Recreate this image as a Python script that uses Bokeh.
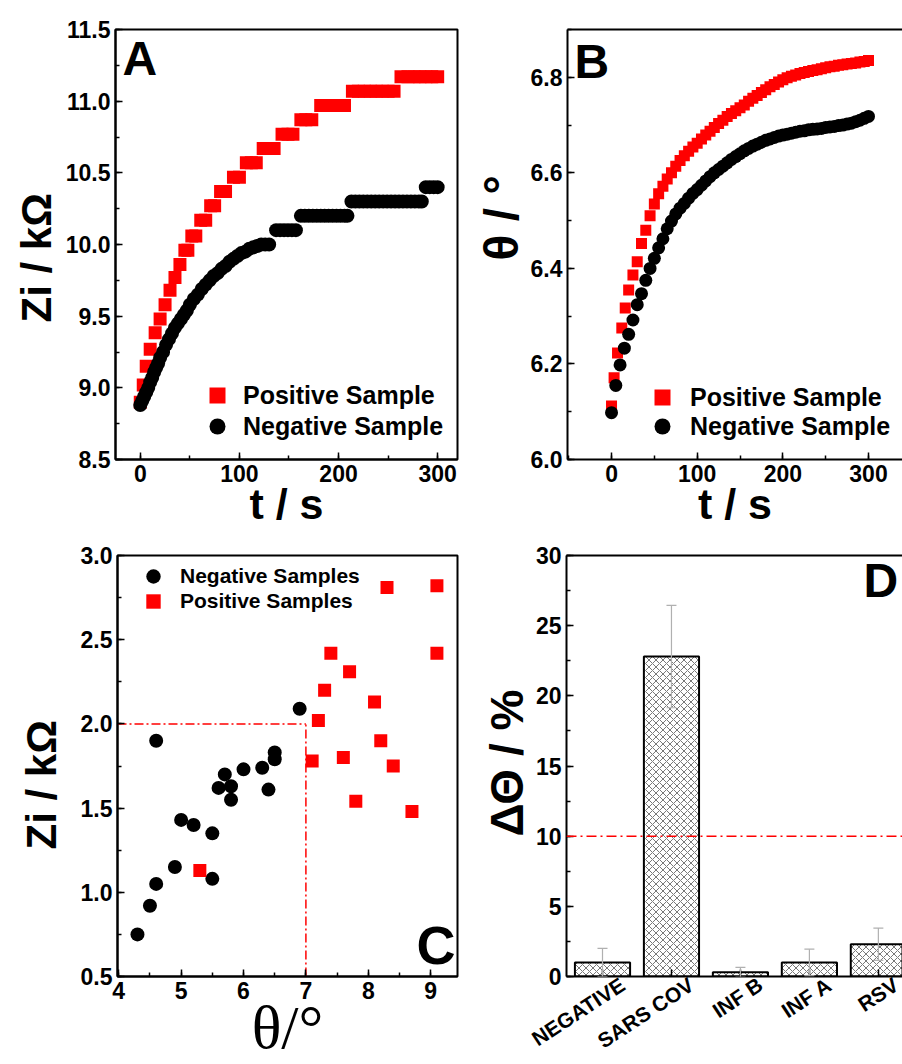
import math
from bokeh.plotting import figure
from bokeh.models import (Range1d, Label, Legend, LegendItem, LinearAxis, Title,
                          FixedTicker, SingleIntervalTicker, ColumnDataSource, Whisker,
                          TeeHead, Span, NumeralTickFormatter)
from bokeh.layouts import column, row
from bokeh.embed import file_html
from bokeh.resources import INLINE

FONT = "Liberation Sans"
SERIF = "Liberation Serif"
RED = "#ff0000"
BLACK = "#000000"

# ---------------- Panel A : Zi vs time ----------------
a_pos_t = [0, 3, 6, 10, 15, 20, 25, 30, 35, 40,
           45, 48, 52, 56, 61, 66, 71, 75, 81, 86,
           94, 100, 107, 112, 117, 124, 130, 135, 143, 149,
           154, 162, 167, 173, 182, 188, 194, 200, 206, 214,
           220, 226, 232, 238, 244, 250, 256, 263, 270, 276,
           282, 288, 294, 300]
a_pos_zi = [8.90, 9.02, 9.15, 9.27, 9.385, 9.48, 9.58, 9.68, 9.77, 9.86,
            9.96, 9.96, 10.06, 10.06, 10.17, 10.17, 10.27, 10.27, 10.37, 10.37,
            10.47, 10.47, 10.57, 10.57, 10.57, 10.67, 10.67, 10.67, 10.77, 10.77,
            10.77, 10.87, 10.87, 10.87, 10.97, 10.97, 10.97, 10.97, 10.97, 11.07,
            11.07, 11.07, 11.07, 11.07, 11.07, 11.07, 11.07, 11.17, 11.17, 11.17,
            11.17, 11.17, 11.17, 11.17]
a_neg_t = [0, 2, 4, 6, 8, 10, 12, 14, 16, 18,
           20, 23, 26, 29, 32, 35, 38, 41, 44, 47,
           50, 54, 58, 62, 66, 70, 74, 78, 82, 86,
           90, 94, 98, 102, 106, 110, 114, 118, 122, 126,
           130, 137, 141, 145, 149, 153, 157, 162, 166, 170,
           174, 178, 182, 186, 190, 194, 198, 202, 206, 209,
           213, 217, 221, 225, 229, 233, 237, 241, 245, 249,
           253, 257, 261, 265, 269, 273, 277, 281, 284, 288,
           292, 296, 300]
a_neg_zi = [8.88, 8.91, 8.94, 8.97, 9.00, 9.04, 9.07, 9.11, 9.14, 9.17,
            9.21, 9.25, 9.30, 9.34, 9.38, 9.42, 9.45, 9.48, 9.51, 9.54,
            9.58, 9.62, 9.65, 9.69, 9.72, 9.75, 9.78, 9.80, 9.83, 9.85,
            9.88, 9.90, 9.92, 9.94, 9.95, 9.97, 9.98, 9.99, 10.00, 10.00,
            10.00, 10.10, 10.10, 10.10, 10.10, 10.10, 10.10, 10.20, 10.20, 10.20,
            10.20, 10.20, 10.20, 10.20, 10.20, 10.20, 10.20, 10.20, 10.20, 10.20,
            10.30, 10.30, 10.30, 10.30, 10.30, 10.30, 10.30, 10.30, 10.30, 10.30,
            10.30, 10.30, 10.30, 10.30, 10.30, 10.30, 10.30, 10.30, 10.30, 10.40,
            10.40, 10.40, 10.40]

# ---------------- Panel B : theta vs time ----------------
b_pos_t = [0, 3, 7, 12, 16, 20, 25, 30, 35, 40,
           45, 50, 55, 60, 65, 70, 75, 80, 85, 90,
           95, 100, 105, 110, 115, 120, 125, 130, 135, 140,
           145, 150, 155, 160, 165, 170, 175, 180, 185, 190,
           195, 200, 205, 210, 215, 220, 225, 230, 235, 240,
           245, 250, 255, 260, 265, 270, 275, 280, 285, 290,
           295, 300]
b_pos_theta = [6.112, 6.171, 6.223, 6.275, 6.317, 6.355, 6.386, 6.414, 6.452, 6.48,
               6.51, 6.535, 6.556, 6.572, 6.587, 6.60, 6.614, 6.626, 6.636, 6.645,
               6.654, 6.662, 6.671, 6.679, 6.687, 6.695, 6.703, 6.71, 6.718, 6.724,
               6.73, 6.736, 6.742, 6.75, 6.756, 6.762, 6.768, 6.774, 6.78, 6.785,
               6.79, 6.795, 6.799, 6.802, 6.805, 6.808, 6.81, 6.812, 6.814, 6.816,
               6.818, 6.82, 6.822, 6.823, 6.825, 6.826, 6.828, 6.829, 6.83, 6.832,
               6.833, 6.835]
b_neg_t = [0, 5, 10, 15, 20, 25, 30, 35, 40, 45,
           50, 55, 60, 65, 70, 75, 80, 85, 90, 95,
           100, 105, 110, 115, 120, 125, 130, 135, 140, 145,
           150, 155, 160, 165, 170, 175, 180, 185, 190, 195,
           200, 205, 210, 215, 220, 225, 230, 235, 240, 245,
           250, 255, 260, 265, 270, 275, 280, 285, 290, 295,
           300]
b_neg_theta = [6.098, 6.155, 6.198, 6.233, 6.262, 6.292, 6.324, 6.347, 6.375, 6.40,
               6.421, 6.443, 6.462, 6.483, 6.499, 6.514, 6.526, 6.536, 6.547, 6.557,
               6.565, 6.574, 6.583, 6.592, 6.60, 6.607, 6.614, 6.621, 6.628, 6.634,
               6.64, 6.646, 6.651, 6.656, 6.66, 6.664, 6.668, 6.671, 6.674, 6.677,
               6.679, 6.681, 6.683, 6.685, 6.687, 6.688, 6.69, 6.691, 6.692, 6.693,
               6.695, 6.696, 6.697, 6.699, 6.70, 6.702, 6.704, 6.707, 6.71, 6.714,
               6.718]

# ---------------- Panel C : Zi vs theta (samples) ----------------
c_neg_theta = [4.3, 4.5, 4.6, 4.6, 4.9, 5.0, 5.2, 5.5, 5.5, 5.6,
               5.7, 5.8, 5.8, 6.0, 6.3, 6.4, 6.5, 6.5, 6.9]
c_neg_zi = [0.75, 0.92, 1.05, 1.90, 1.15, 1.43, 1.40, 1.35, 1.08, 1.62,
            1.70, 1.63, 1.55, 1.73, 1.74, 1.61, 1.83, 1.79, 2.09]
c_pos_theta = [5.3, 7.1, 7.2, 7.3, 7.4, 7.7, 7.6, 7.8, 8.1, 8.2, 8.3, 8.4, 8.7, 9.1, 9.1]
c_pos_zi = [1.13, 1.78, 2.02, 2.20, 2.42, 2.31, 1.80, 1.54, 2.13, 1.90, 2.81, 1.75, 1.48, 2.82, 2.42]
C_THETA_CUT = 7.0
C_ZI_CUT = 2.0

# ---------------- Panel D : delta theta bars ----------------
d_cats = ["NEGATIVE", "SARS COV", "INF B", "INF A", "RSV"]
d_pos = [1, 2, 3, 4, 5]
d_vals = [1.0, 22.8, 0.3, 1.0, 2.3]
d_err = [1.0, 3.65, 0.35, 0.95, 1.15]
D_CUT = 10.0

A_XR, A_YR = (-25, 320), (8.5, 11.5)
B_XR, B_YR = (-51.4, 339.7), (6.0, 6.9)
C_XR, C_YR = (3.98, 9.43), (0.5, 3.0)
D_XR, D_YR = (0.478, 5.35), (0, 30)
D_LABEL_SHIFT = 0.29   # category labels end a little right of the bar centres


def style_axis(ax):
    ax.axis_line_width = 2
    ax.axis_line_color = "black"
    ax.major_tick_in = 7
    ax.major_tick_out = 0
    ax.minor_tick_in = 4
    ax.minor_tick_out = 0
    ax.major_tick_line_width = 1.5
    ax.minor_tick_line_width = 1.5
    ax.major_tick_line_color = "black"
    ax.minor_tick_line_color = "black"
    ax.major_label_text_font = FONT
    ax.major_label_text_font_style = "bold"
    ax.major_label_text_font_size = "23px"
    ax.major_label_text_color = "black"
    ax.major_label_standoff = 5
    ax.axis_label_text_font = FONT
    ax.axis_label_text_font_style = "bold"
    ax.axis_label_text_color = "black"


def mkfig(w, h, xr, yr, ml, mr, mt, mb, xticker, yticker, yfmt=None, outline=True):
    p = figure(width=w, height=h, x_range=Range1d(*xr), y_range=Range1d(*yr),
               output_backend="svg", toolbar_location=None,
               min_border_left=ml, min_border_right=mr,
               min_border_top=mt, min_border_bottom=mb)
    p.grid.visible = False
    p.background_fill_color = "white"
    p.border_fill_color = "white"
    bx, ly = p.below[0], p.left[0]
    style_axis(bx)
    style_axis(ly)
    bx.ticker = xticker
    ly.ticker = yticker
    if yfmt:
        ly.formatter = NumeralTickFormatter(format=yfmt)
    if outline:
        p.outline_line_color = "black"
        p.outline_line_width = 2
    else:
        p.outline_line_color = None
        top = LinearAxis(ticker=FixedTicker(ticks=[]), major_tick_in=0, major_tick_out=0,
                         minor_tick_in=0, minor_tick_out=0, axis_line_width=2,
                         axis_line_color="black")
        p.add_layout(top, "above")
    return p


def lab(p, text, x, y, size):
    p.add_layout(Label(x=x, y=y, x_units="screen", y_units="screen", text=text,
                       text_align="left", text_baseline="alphabetic",
                       text_font=FONT, text_font_style="bold", text_font_size=size,
                       text_color="black"))


def ytitle(p, text, size, offset, standoff, font=FONT, style="bold"):
    p.add_layout(Title(text=text, align="left", offset=offset, standoff=standoff,
                       vertical_align="bottom", text_font=font, text_font_style=style,
                       text_font_size=size, text_color="black"), "left")


def legend_item(p, label, rend, x, y, glyph, standoff, size):
    lg = Legend(items=[LegendItem(label=label, renderers=[rend])], location=(x, y),
                orientation="vertical", glyph_width=glyph, glyph_height=glyph,
                label_height=glyph, spacing=0, padding=0, margin=0,
                label_standoff=standoff, border_line_color=None,
                background_fill_alpha=0, label_text_font=FONT,
                label_text_font_style="bold", label_text_font_size=size,
                label_text_color="black")
    p.add_layout(lg)


# ---- A
pA = mkfig(470, 530, A_XR, A_YR, 115, 13, 27, 68,
           SingleIntervalTicker(interval=100, num_minor_ticks=2),
           SingleIntervalTicker(interval=0.5, num_minor_ticks=2), "0.0")
rAp = pA.scatter(a_pos_t, a_pos_zi, marker="square", size=13, color=RED, line_width=0)
rAn = pA.scatter(a_neg_t, a_neg_zi, marker="circle", size=14, color=BLACK, line_width=0)
legend_item(pA, "Positive Sample", rAp, 82, 44, 40, 6, "25px")
legend_item(pA, "Negative Sample", rAn, 82, 13, 40, 6, "25px")
lab(pA, "A", 7, 401, "48px")
pA.below[0].axis_label = "t / s"
pA.below[0].axis_label_text_font_size = "43px"
pA.below[0].axis_label_standoff = -5
ytitle(pA, "Zi / kΩ", "42px", 137, 6)

# ---- B
pB = mkfig(432, 530, B_XR, B_YR, 97, 0, 29, 68,
           SingleIntervalTicker(interval=100, num_minor_ticks=2),
           SingleIntervalTicker(interval=0.2, num_minor_ticks=2), "0.0", outline=False)
rBp = pB.scatter(b_pos_t, b_pos_theta, marker="square", size=11, color=RED, line_width=0)
rBn = pB.scatter(b_neg_t, b_neg_theta, marker="circle", size=13, color=BLACK, line_width=0)
legend_item(pB, "Positive Sample", rBp, 75, 42, 40, 8, "25px")
legend_item(pB, "Negative Sample", rBn, 75, 13, 40, 8, "25px")
lab(pB, "B", 7, 398, "48px")
pB.below[0].axis_label = "t / s"
pB.below[0].axis_label_text_font_size = "43px"
pB.below[0].axis_label_standoff = -5
ytitle(pB, "θ / °", "48px", 199, 0)

# ---- C
pC = mkfig(470, 534, C_XR, C_YR, 117, 13, 24, 87,
           SingleIntervalTicker(interval=1, num_minor_ticks=2),
           SingleIntervalTicker(interval=0.5, num_minor_ticks=2), "0.0")
pC.segment(x0=[C_XR[0]], y0=[C_ZI_CUT], x1=[C_THETA_CUT], y1=[C_ZI_CUT],
           line_color=RED, line_width=1.5, line_dash="9 3 2 3")
pC.segment(x0=[C_THETA_CUT], y0=[C_YR[0]], x1=[C_THETA_CUT], y1=[C_ZI_CUT],
           line_color=RED, line_width=1.5, line_dash="9 3 2 3")
rCn = pC.scatter(c_neg_theta, c_neg_zi, marker="circle", size=14, color=BLACK, line_width=0)
rCp = pC.scatter(c_pos_theta, c_pos_zi, marker="square", size=13, color=RED, line_width=0)
legend_item(pC, "Negative Samples", rCn, 18, 382, 36, 9, "21px")
legend_item(pC, "Positive Samples", rCp, 18, 357, 36, 9, "21px")
lab(pC, "C", 299, 32, "54px")
pC.below[0].axis_label = "θ/°"
pC.below[0].axis_label_text_font = SERIF
pC.below[0].axis_label_text_font_style = "normal"
pC.below[0].axis_label_text_font_size = "62px"
pC.below[0].axis_label_standoff = -9
ytitle(pC, "Zi / kΩ", "42px", 127, 26)

# ---- D
pD = mkfig(432, 534, D_XR, D_YR, 96, 0, 25, 86,
           FixedTicker(ticks=d_pos),
           SingleIntervalTicker(interval=5, num_minor_ticks=2), None, outline=False)
pD.below[0].major_label_overrides = {k: "" for k in d_pos}
pD.below[0].major_label_text_font_size = "0px"
pD.below[0].major_label_standoff = 0
pD.extra_x_ranges = {"labels": Range1d(D_XR[0] - D_LABEL_SHIFT, D_XR[1] - D_LABEL_SHIFT)}
cat_axis = LinearAxis(x_range_name="labels", ticker=FixedTicker(ticks=d_pos),
                      major_label_overrides={k: c for k, c in zip(d_pos, d_cats)},
                      axis_line_color=None, major_tick_in=0, major_tick_out=0,
                      minor_tick_in=0, minor_tick_out=0, major_label_orientation=0.58,
                      major_label_standoff=6, major_label_text_font=FONT,
                      major_label_text_font_style="bold", major_label_text_font_size="21px",
                      major_label_text_color="black")
pD.add_layout(cat_axis, "below")
src = ColumnDataSource(dict(x=d_pos, top=d_vals, cat=d_cats,
                            upper=[v + e for v, e in zip(d_vals, d_err)],
                            lower=[v - e for v, e in zip(d_vals, d_err)]))
pD.vbar(x="x", top="top", bottom=0, width=0.8, source=src, fill_color="white",
        line_color="black", line_width=2, hatch_pattern="x", hatch_color="#555555",
        hatch_scale=7, hatch_weight=0.8)
pD.add_layout(Whisker(source=src, base="x", upper="upper", lower="lower",
                      line_color="#b0b0b0", line_width=1.2, level="overlay",
                      upper_head=TeeHead(size=10, line_color="#b0b0b0", line_width=1.2),
                      lower_head=TeeHead(size=10, line_color="#b0b0b0", line_width=1.2)))
pD.add_layout(Span(location=D_CUT, dimension="width", line_color=RED, line_width=1.5,
                   line_dash="10 4 2 4"))
lab(pD, "D", 297, 396, "48px")
ytitle(pD, "ΔΘ / %", "46px", 140, 0)

layout = column(row(pA, pB), row(pC, pD))
open("out.html", "w").write(file_html(layout, INLINE))
